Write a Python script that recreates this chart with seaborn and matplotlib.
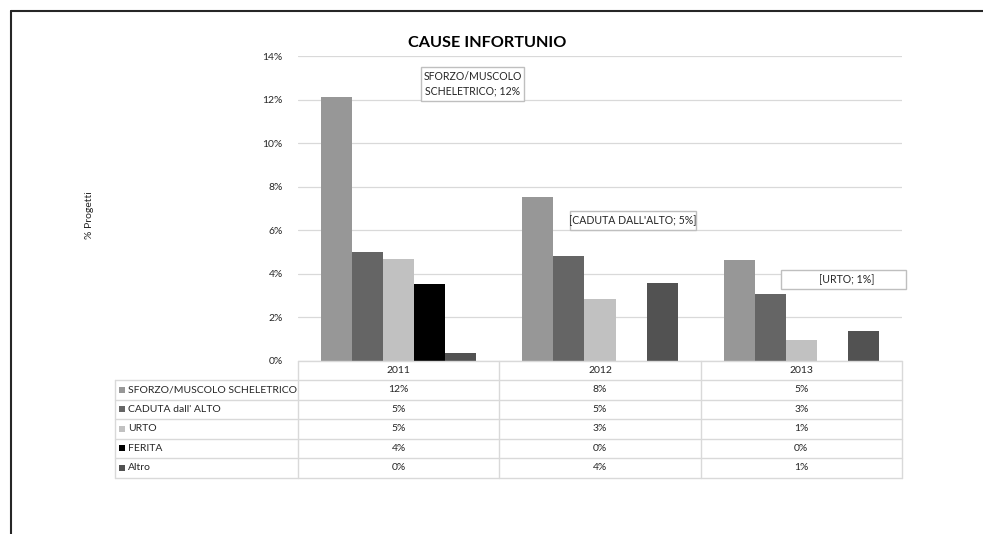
import numpy as np
import pandas as pd
import matplotlib
matplotlib.use("Agg")
import matplotlib.pyplot as plt
import seaborn as sns
from matplotlib.lines import Line2D
from matplotlib.patches import Rectangle

# ---- data (percent of projects) ----
anni = ["2011", "2012", "2013"]
cause = ["SFORZO/MUSCOLO SCHELETRICO", "CADUTA dall' ALTO", "URTO", "FERITA", "Altro"]
sforzo = [12.1, 7.52, 4.65]
caduta = [5.01, 4.80, 3.06]
urto = [4.67, 2.83, 0.96]
ferita = [3.52, 0.0, 0.0]
altro = [0.35, 3.56, 1.36]
colori = ["#979797", "#656565", "#c1c1c1", "#000000", "#525252"]
y_ticks = [0, 2, 4, 6, 8, 10, 12, 14]

serie = [sforzo, caduta, urto, ferita, altro]
df = pd.DataFrame({
    "anno": [a for _ in cause for a in anni],
    "causa": [c for c in cause for _ in anni],
    "valore": [v for s in serie for v in s],
})


def pct(v):
    return f"{int(v + 0.5)}%"


W, H = 983, 534
sns.set_theme(style="white")
plt.rcParams["font.family"] = ["Lato", "DejaVu Sans"]

fig = plt.figure(figsize=(W / 100, H / 100), dpi=100)


def fx(x):
    return x / W


def fy(y):
    return 1 - y / H


GRID = "#d9d9d9"
TXT = "#262626"

ax = fig.add_axes([fx(298), fy(361), fx(902) - fx(298), fy(56) - fy(361)])
sns.barplot(data=df, x="anno", y="valore", hue="causa", order=anni,
            hue_order=cause, palette=colori, width=0.77, gap=0,
            linewidth=0, legend=False, ax=ax)

ax.set_ylim(0, 14)
ax.set_xlim(-0.5, 2.5)
ax.set_yticks(y_ticks)
ax.set_yticklabels([f"{t}%" for t in y_ticks], fontsize=7.5, color=TXT)
ax.set_xticks([])
ax.set_xlabel("")
ax.set_ylabel("")
ax.tick_params(axis="y", length=0, pad=11)
ax.yaxis.grid(True, color=GRID, lw=0.9)
ax.set_axisbelow(True)
for s in ax.spines.values():
    s.set_visible(False)

# title and axis label
fig.text(fx(487), fy(43), "CAUSE INFORTUNIO", weight="bold", fontsize=11.7,
         ha="center", va="center", color="#000000")
fig.text(fx(90), fy(215), "% Progetti", rotation=90, ha="center",
         va="center", fontsize=7.5, color=TXT)

# callouts
def callout(x0, x1, y0, y1, text, tx=None):
    fig.add_artist(Rectangle((fx(x0), fy(y1)), fx(x1) - fx(x0), fy(y0) - fy(y1),
                             transform=fig.transFigure, facecolor="white",
                             edgecolor="#bfbfbf", lw=1, zorder=5))
    cx = (x0 + x1) / 2 if tx is None else tx
    fig.text(fx(cx), fy((y0 + y1) / 2), text, ha="center", va="center",
             fontsize=7.6, color=TXT, linespacing=1.4, zorder=6)


callout(421, 524, 67, 101, f"SFORZO/MUSCOLO\nSCHELETRICO; {pct(sforzo[0])}")
callout(570, 696, 211, 230, f"[CADUTA DALL'ALTO; {pct(caduta[1])}]")
callout(781, 906, 270, 289, f"[URTO; {pct(urto[2])}]", tx=847)

# data table under the chart
col_x = [298, 499.5, 700.5, 902]
row_y = [361, 380, 399.5, 419, 438.5, 458, 477.5]
left_x = 115


def hline(y, x0, x1):
    fig.add_artist(Line2D([fx(x0), fx(x1)], [fy(y), fy(y)],
                          transform=fig.transFigure, color=GRID, lw=1))


def vline(x, y0, y1):
    fig.add_artist(Line2D([fx(x), fx(x)], [fy(y0), fy(y1)],
                          transform=fig.transFigure, color=GRID, lw=1))


hline(row_y[0], col_x[0], col_x[-1])
for y in row_y[1:]:
    hline(y, left_x, col_x[-1])
vline(left_x, row_y[1], row_y[-1])
for x in col_x:
    vline(x, row_y[0], row_y[-1])

for j, a in enumerate(anni):
    cx = (col_x[j] + col_x[j + 1]) / 2
    fig.text(fx(cx), fy((row_y[0] + row_y[1]) / 2), a, ha="center",
             va="center", fontsize=7.5, color=TXT)

for i, (c, s, col) in enumerate(zip(cause, serie, colori)):
    cy = (row_y[i + 1] + row_y[i + 2]) / 2
    fig.add_artist(Rectangle((fx(118.5), fy(cy + 3)), fx(6), fy(0) - fy(6),
                             transform=fig.transFigure, facecolor=col,
                             edgecolor="none"))
    fig.text(fx(128), fy(cy), c, ha="left", va="center", fontsize=7.5,
             color=TXT)
    for j, v in enumerate(s):
        cx = (col_x[j] + col_x[j + 1]) / 2
        fig.text(fx(cx), fy(cy), pct(v), ha="center", va="center",
                 fontsize=7.5, color=TXT)

# outer frame (top and left edges)
fig.add_artist(Line2D([fx(10.5), fx(W)], [fy(10.5), fy(10.5)],
                      transform=fig.transFigure, color="#262626", lw=1.5))
fig.add_artist(Line2D([fx(10.5), fx(10.5)], [fy(10.5), fy(H)],
                      transform=fig.transFigure, color="#262626", lw=1.5))

fig.savefig("out.png", dpi=100, facecolor="white")
